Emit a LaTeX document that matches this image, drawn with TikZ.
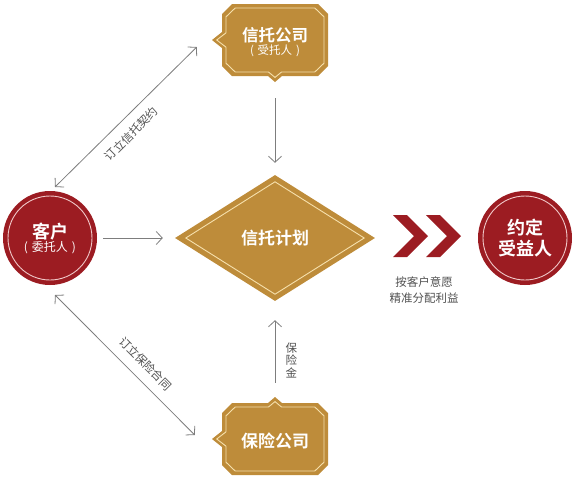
\documentclass[tikz,border=0pt]{standalone}
\usepackage{fontspec}
\setmainfont{Noto Sans CJK SC}[BoldFont={* Bold}]
\usetikzlibrary{arrows.meta, shapes.geometric, calc, positioning}

\definecolor{gold}{RGB}{190,140,58}
\definecolor{cream}{RGB}{246,224,172}
\definecolor{wine}{RGB}{156,28,34}
\definecolor{rose}{RGB}{240,200,200}
\definecolor{wire}{RGB}{125,125,125}
\definecolor{ink}{RGB}{80,80,80}

\tikzset{
  notchbox/.pic={
    \path[pic actions] (-53,-26) -- (-43,-36) -- (43,-36) -- (53,-26) -- (53,26)
      -- (43,36) -- (7,36) -- (0,42) -- (-7,36) -- (-43,36) -- (-53,26)
      -- (-53,8) -- (-63,0) -- (-53,-8) -- cycle;
  }
}

\begin{document}
\begin{tikzpicture}[x=1pt, y=-1pt,
    >={Straight Barb[length=6pt,width=13pt]},
    boxtxt/.style={align=center, text=white, minimum width=106pt,
                   minimum height=72pt, inner sep=0pt},
    disc/.style={circle, fill=wine, minimum size=94pt, inner sep=0pt,
                 align=center, text=white},
    big/.style={font=\bfseries\fontsize{17}{21}\selectfont},
    lab/.style={font=\fontsize{11.5}{16}\selectfont, text=ink},
    arr/.style={->, wire, line width=0.8pt},
    dbl/.style={<->, wire, line width=0.8pt},
    inner line/.style={draw=cream, line width=0.9pt},
  ]
  \useasboundingbox (0,0) rectangle (573,480);

  %% ---- company boxes --------------------------------------------
  \pic[fill=gold] at (275,40) {notchbox};
  \pic[inner line, xscale=0.925, yscale=0.89] at (275,40) {notchbox};
  \pic[fill=gold, yscale=-1] at (275,439) {notchbox};
  \pic[inner line, xscale=0.925, yscale=-0.89] at (275,439) {notchbox};

  \node[boxtxt] (trustee) at (275,42)
    {{\bfseries\fontsize{16.5}{18}\selectfont 信托公司}\\[1pt]{\fontsize{11.5}{13}\selectfont (\,\,受托人\,\,)}};
  \node[boxtxt, big] (insurer) at (275,441) {保险公司};

  %% ---- trust plan -----------------------------------------------
  \node[diamond, fill=gold, minimum width=200pt, minimum height=126pt,
        inner sep=0pt, text=white, big] (plan) at (275,238) {信托计划};
  \draw[inner line] ($(plan.north)+(0,7)$) -- ($(plan.east)+(-11,0)$)
    -- ($(plan.south)+(0,-7)$) -- ($(plan.west)+(11,0)$) -- cycle;

  %% ---- client and beneficiary -----------------------------------
  \node[disc] (client) at (50,238)
    {{\bfseries\fontsize{18}{20}\selectfont 客户}\\[1pt]{\fontsize{12}{13}\selectfont (\,\,委托人\,\,)}};
  \draw[rose, line width=0.9pt] (client) circle (42pt);

  \node[disc, font=\bfseries\fontsize{18}{21}\selectfont] (benef) at (525,238) {约定\\受益人};
  \draw[rose, line width=0.9pt] (benef) circle (42pt);

  %% ---- double chevron -------------------------------------------
  \fill[wine] (393,215) -- (407,215) -- (428,236) -- (407,257) -- (393,257) -- (414,236) -- cycle;
  \fill[wine] (426,215) -- (440,215) -- (461,236) -- (440,257) -- (426,257) -- (447,236) -- cycle;
  \node[lab, align=center] (note) at (424,290) {按客户意愿\\精准分配利益};

  %% ---- connectors -----------------------------------------------
  \draw[arr, shorten <=20pt, shorten >=12pt] (trustee.south) -- (plan.north);
  \draw[arr, shorten <=6pt, shorten >=12pt] (client.east) -- (plan.west);
  \draw[arr, shorten <=22pt, shorten >=19pt] (insurer.north) --
    node[lab, pos=0.43, anchor=west, xshift=7pt, align=center, font=\fontsize{11.5}{12.5}\selectfont]
    {保\\险\\金} (plan.south);

  \draw[dbl] ($(client.center)+(5,-51)$) --
    node[lab, sloped, below, pos=0.46, inner sep=10pt] {订立信托契约}
    ($(trustee.west)+(-25,5)$);
  \draw[dbl] ($(client.center)+(5,57)$) --
    node[lab, sloped, above, pos=0.57, inner sep=10pt] {订立保险合同}
    ($(insurer.west)+(-27,-6)$);

\end{tikzpicture}
\end{document}
